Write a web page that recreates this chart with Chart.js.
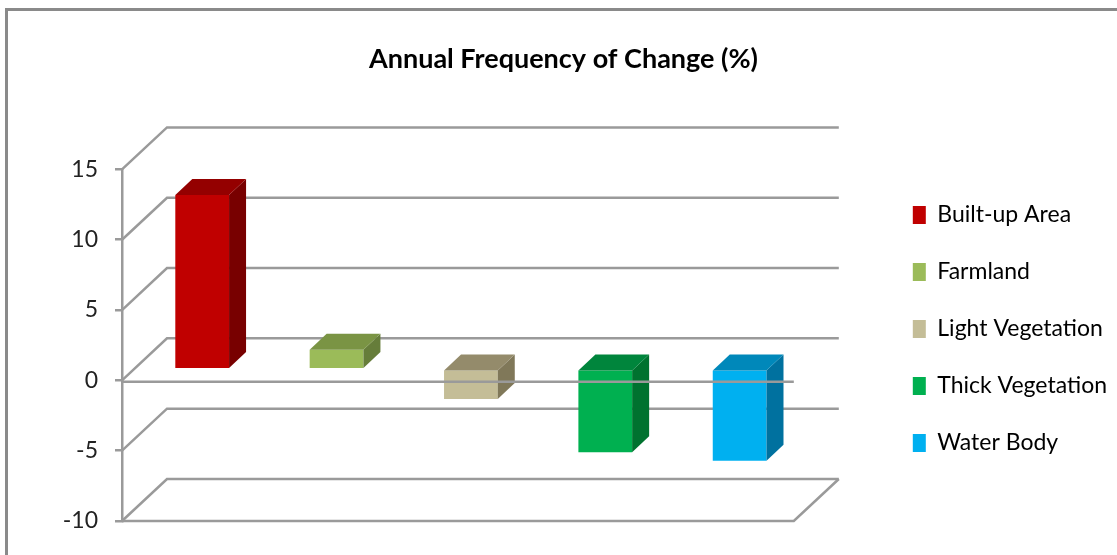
<!DOCTYPE html>
<html>
<head>
<meta charset="utf-8">
<title>Annual Frequency of Change</title>
<script src="https://cdn.jsdelivr.net/npm/chart.js@4"></script>
<style>
  html, body { margin: 0; padding: 0; background: #fff; }
</style>
</head>
<body>
<canvas id="myChart" width="1117" height="555"></canvas>
<script>
// data
const categories = ['Built-up Area', 'Farmland', 'Light Vegetation', 'Thick Vegetation', 'Water Body'];
const changeValues = [12.4, 1.4, -2.1, -5.9, -6.5];
const yTicks = [-10, -5, 0, 5, 10, 15];

// colours: front face, top face, side face
const frontColors = ['#C00000', '#9BBB59', '#C4BD97', '#00B050', '#00B0F0'];
const topColors = ['#940000', '#7A9444', '#948B6B', '#00853C', '#0088BA'];
const sideColors = ['#780000', '#667D3A', '#807859', '#00722F', '#00719F'];

// 3d look
const DEPTH_X = 45, DEPTH_Y = 42;      // wall depth
const SHIFT_X = 13, SHIFT_Y = 11;      // bars sit a bit behind the front plane
const BAR_DX = 17, BAR_DY = 16;        // bar depth
const lineColor = '#9a9a9a';
const fontFamily = 'Lato, "Open Sans", sans-serif';

function fillPoly(ctx, pts) {
    ctx.beginPath();
    ctx.moveTo(pts[0][0], pts[0][1]);
    for (let i = 1; i < pts.length; i++) ctx.lineTo(pts[i][0], pts[i][1]);
    ctx.closePath();
    ctx.fill();
}

const threeD = {
    id: 'threeD',
    beforeDraw(chart) {
        const ctx = chart.ctx;
        ctx.save();
        ctx.fillStyle = '#fff';
        ctx.fillRect(0, 0, chart.width, chart.height);
        // outer frame (only top and left show)
        ctx.strokeStyle = '#8a8a8a';
        ctx.lineWidth = 3;
        ctx.beginPath();
        ctx.moveTo(6.5, chart.height);
        ctx.lineTo(6.5, 9.5);
        ctx.lineTo(chart.width, 9.5);
        ctx.stroke();
        ctx.restore();
    },
    beforeDatasetsDraw(chart) {
        const { ctx, chartArea: a, scales: { y } } = chart;
        ctx.save();
        ctx.strokeStyle = lineColor;
        ctx.lineWidth = 2.5;
        // side wall + back wall gridlines
        yTicks.forEach(v => {
            const py = y.getPixelForValue(v);
            ctx.beginPath();
            ctx.moveTo(a.left, py);
            ctx.lineTo(a.left + DEPTH_X, py - DEPTH_Y);
            ctx.lineTo(a.right + DEPTH_X, py - DEPTH_Y);
            ctx.stroke();
        });
        // floor front and right edge
        const fy = y.getPixelForValue(yTicks[0]);
        ctx.beginPath();
        ctx.moveTo(a.left, fy);
        ctx.lineTo(a.right, fy);
        ctx.lineTo(a.right + DEPTH_X, fy - DEPTH_Y);
        ctx.stroke();
        ctx.restore();

        // bars are drawn shifted into the depth
        ctx.save();
        ctx.translate(SHIFT_X, -SHIFT_Y);
    },
    afterDatasetsDraw(chart) {
        const { ctx, chartArea: a, scales: { y } } = chart;
        chart.getDatasetMeta(0).data.forEach((bar, i) => {
            const p = bar.getProps(['x', 'y', 'base', 'width'], true);
            const l = p.x - p.width / 2, r = p.x + p.width / 2;
            const t = Math.min(p.y, p.base), b = Math.max(p.y, p.base);
            ctx.fillStyle = sideColors[i];
            fillPoly(ctx, [[r, t], [r + BAR_DX, t - BAR_DY], [r + BAR_DX, b - BAR_DY], [r, b]]);
            ctx.fillStyle = topColors[i];
            fillPoly(ctx, [[l, t], [l + BAR_DX, t - BAR_DY], [r + BAR_DX, t - BAR_DY], [r, t]]);
        });
        ctx.restore();

        // category axis line at zero, in front of the bars
        const zy = y.getPixelForValue(0) + 1.5;
        ctx.save();
        ctx.strokeStyle = lineColor;
        ctx.lineWidth = 2.5;
        ctx.beginPath();
        ctx.moveTo(a.left, zy);
        ctx.lineTo(a.right, zy);
        ctx.stroke();
        ctx.restore();
    }
};

const ctx = document.getElementById('myChart').getContext('2d');
const myChart = new Chart(ctx, {
    type: 'bar',
    data: {
        labels: categories,
        datasets: [{
            label: 'Annual Frequency of Change (%)',
            data: changeValues,
            backgroundColor: frontColors,
            borderWidth: 0,
            barPercentage: 0.4,
            categoryPercentage: 1,
            clip: false
        }]
    },
    options: {
        responsive: false,
        animation: false,
        layout: { padding: { left: 10, right: 0, top: 0, bottom: 34 } },
        plugins: {
            title: {
                display: true,
                text: 'Annual Frequency of Change (%)',
                color: '#000',
                font: { family: fontFamily, size: 27, weight: 'bold' },
                padding: { top: 43, bottom: 94 }
            },
            legend: {
                position: 'right',
                align: 'start',
                fullSize: false,
                labels: {
                    boxWidth: 13,
                    boxHeight: 18,
                    padding: 34,
                    color: '#222',
                    font: { family: fontFamily, size: 23 },
                    generateLabels: () => categories.map((c, i) => ({
                        text: c,
                        fillStyle: frontColors[i],
                        strokeStyle: frontColors[i],
                        lineWidth: 0,
                        hidden: false,
                        index: i
                    }))
                }
            },
            tooltip: { enabled: false }
        },
        scales: {
            x: { display: false },
            y: {
                min: -10,
                max: 15,
                ticks: {
                    stepSize: 5,
                    padding: 17,
                    color: '#222',
                    font: { family: fontFamily, size: 23 }
                },
                grid: { drawOnChartArea: false, drawTicks: true, tickLength: 7, color: lineColor, lineWidth: 2.5 },
                border: { color: lineColor, width: 2.5 },
                afterFit(scale) { scale.width = 112; }
            },
            // empty spacer between the plot and the legend
            gap: {
                type: 'linear',
                axis: 'y',
                position: 'right',
                display: false,
                afterFit(scale) { scale.width = 85; }
            }
        }
    },
    plugins: [threeD]
});
</script>
</body>
</html>
